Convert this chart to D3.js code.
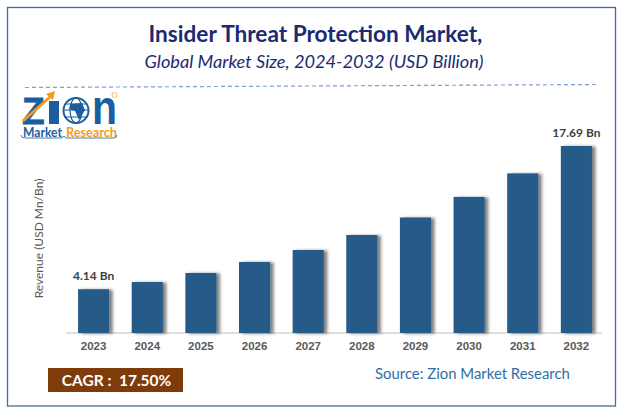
<!DOCTYPE html>
<html>
<head>
  <meta charset="utf-8" />
  <title>Insider Threat Protection Market</title>
  <script src="https://d3js.org/d3.v7.min.js"></script>
  <style>
    body { margin: 0; background: #fff; }
    svg { display: block; font-family: Lato, sans-serif; }
    .axis text { font-size: 11.5px; font-weight: 700; fill: #595959; }
    .axis line, .axis path { display: none; }
  </style>
</head>
<body>
  <svg width="624" height="415"></svg>

  <script>
    const years = ["2023", "2024", "2025", "2026", "2027", "2028", "2029", "2030", "2031", "2032"];
    const revenue = [4.14, 4.82, 5.68, 6.72, 7.85, 9.27, 10.93, 12.87, 15.1, 17.69];
    const endLabels = { 2023: "4.14 Bn", 2032: "17.69 Bn" };

    const svg = d3.select("svg");
    const baseY = 333, topY = 146;
    const blue = "#1a5ea0", orange = "#f39a1f";

    // frame
    svg.append("rect").attr("x", 7.5).attr("y", 7.5).attr("width", 608).attr("height", 398.5)
      .attr("fill", "#fff").attr("stroke", "#3f6f9a").attr("stroke-width", 1.3);

    // bar shadow
    const filter = svg.append("defs").append("filter").attr("id", "barShadow")
      .attr("x", "-20%").attr("y", "-5%").attr("width", "150%").attr("height", "110%");
    filter.append("feDropShadow").attr("dx", 3.5).attr("dy", 0.5).attr("stdDeviation", 1.8)
      .attr("flood-color", "#000").attr("flood-opacity", 0.5);

    // titles
    svg.append("text").attr("x", 315.5).attr("y", 42).attr("text-anchor", "middle")
      .attr("font-size", 22.6).attr("font-weight", 700).attr("fill", "#1c2a72")
      .text("Insider Threat Protection Market,");
    svg.append("text").attr("x", 314).attr("y", 68).attr("text-anchor", "middle")
      .attr("font-size", 18.2).attr("font-style", "italic").attr("fill", "#1c2a72")
      .text("Global Market Size, 2024-2032 (USD Billion)");

    svg.append("line").attr("x1", 25).attr("y1", 87.5).attr("x2", 597).attr("y2", 84.5)
      .attr("stroke", "#7f9fd6").attr("stroke-width", 1.2).attr("stroke-dasharray", "4 3");

    // scales and axis
    const x = d3.scaleBand().domain(years).range([66, 604]).paddingInner(0.42).paddingOuter(0.225);
    const y = d3.scaleLinear().domain([0, d3.max(revenue)]).range([baseY, topY]);

    svg.append("line").attr("x1", 66).attr("x2", 602).attr("y1", baseY).attr("y2", baseY)
      .attr("stroke", "#d4d4d4").attr("stroke-width", 1.5);
    svg.append("g").attr("class", "axis").attr("transform", `translate(0,${baseY})`)
      .call(d3.axisBottom(x).tickSize(0).tickPadding(9));

    svg.append("g").selectAll("rect").data(years).join("rect")
      .attr("x", d => x(d))
      .attr("y", (d, i) => y(revenue[i]))
      .attr("width", x.bandwidth())
      .attr("height", (d, i) => baseY - y(revenue[i]))
      .attr("fill", "#255a88")
      .attr("filter", "url(#barShadow)");

    svg.append("g").selectAll("text").data(years.filter(d => endLabels[d])).join("text")
      .attr("x", d => x(d) + x.bandwidth() / 2)
      .attr("y", d => y(revenue[years.indexOf(d)]) - 9)
      .attr("text-anchor", "middle")
      .attr("font-size", 12).attr("font-weight", 700).attr("fill", "#404040")
      .text(d => endLabels[d]);

    svg.append("text").attr("transform", "translate(43,238.5) rotate(-90)").attr("text-anchor", "middle")
      .attr("font-size", 12).attr("fill", "#595959").text("Revenue (USD Mn/Bn)");

    // CAGR box and source
    svg.append("rect").attr("x", 48).attr("y", 368).attr("width", 135).attr("height", 24).attr("fill", "#7f3b0a");
    svg.append("text").attr("x", 116.5).attr("y", 386).attr("text-anchor", "middle")
      .attr("font-size", 15.5).attr("font-weight", 700).attr("fill", "#fff").attr("xml:space", "preserve")
      .text("CAGR :  17.50%");
    svg.append("text").attr("x", 375).attr("y", 379)
      .attr("font-size", 14.9).attr("fill", "#2f6ea5").text("Source: Zion Market Research");

    // logo
    const logo = svg.append("g");
    logo.append("text").attr("x", 22).attr("y", 124).attr("font-family", "Liberation Sans, sans-serif")
      .attr("font-size", 37).attr("font-weight", 700).attr("fill", blue)
      .attr("stroke", blue).attr("stroke-width", 0.8).text("Z");
    logo.append("rect").attr("x", 49).attr("y", 101).attr("width", 10).attr("height", 23).attr("fill", blue);
    logo.append("line").attr("x1", 23).attr("y1", 121).attr("x2", 51).attr("y2", 96)
      .attr("stroke", orange).attr("stroke-width", 3);
    logo.append("path").attr("d", "M55,91 L46,94 L53,100 Z").attr("fill", orange);

    logo.append("circle").attr("cx", 76).attr("cy", 110.5).attr("r", 12.5).attr("fill", "#fff")
      .attr("stroke", blue).attr("stroke-width", 2);
    logo.append("ellipse").attr("cx", 76).attr("cy", 110.5).attr("rx", 6).attr("ry", 12.5).attr("fill", "none")
      .attr("stroke", blue).attr("stroke-width", 1.2);
    logo.append("path").attr("d", "M66,104 L86,104 M64,110 L88,110 M66,117 L86,117").attr("stroke", blue).attr("stroke-width", 1.2);
    logo.append("path").attr("d", "M71,104 L82,103 L85,110 L79,120 L75,111 L69,109 Z").attr("fill", blue);

    logo.append("text").attr("x", 92).attr("y", 124).attr("font-family", "Liberation Sans, sans-serif")
      .attr("font-size", 48).attr("font-weight", 700).attr("fill", blue)
      .attr("textLength", 25).attr("lengthAdjust", "spacingAndGlyphs").text("n");
    logo.append("circle").attr("cx", 114.5).attr("cy", 95).attr("r", 2.5).attr("fill", "none")
      .attr("stroke", orange).attr("stroke-width", 0.7);

    logo.append("text").attr("x", 23).attr("y", 137).attr("font-size", 12.5).attr("font-weight", 700)
      .attr("fill", blue).attr("textLength", 39).attr("lengthAdjust", "spacingAndGlyphs").text("Market");
    logo.append("text").attr("x", 66).attr("y", 137).attr("font-size", 12.5).attr("font-weight", 700)
      .attr("fill", orange).attr("textLength", 51).attr("lengthAdjust", "spacingAndGlyphs").text("Research");
    logo.append("path").attr("d", "M21,135 Q21,138 25,138 L61,138 Q63,138 64,136 Q65,138 67,138 L113,138 Q117,138 117,135")
      .attr("fill", "none").attr("stroke", blue).attr("stroke-width", 0.8);
  </script>
</body>
</html>
